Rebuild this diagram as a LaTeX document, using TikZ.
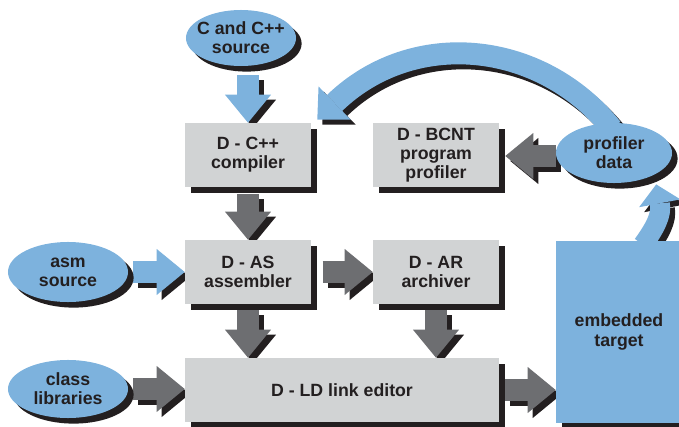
\documentclass[tikz,border=0pt]{standalone}
\usepackage{fontspec}
\setmainfont{Liberation Sans}
\usetikzlibrary{arrows.meta,positioning,shapes.geometric,shadows,backgrounds}
\definecolor{skyblue}{HTML}{7DB2DD}
\definecolor{boxgray}{HTML}{D1D3D4}
\definecolor{arrowgray}{HTML}{6D6E71}
\definecolor{inkblack}{HTML}{231F20}
\tikzset{
  dropblk/.style={drop shadow={shadow xshift=0.14cm,shadow yshift=-0.14cm,fill=inkblack,opacity=1}},
  tool/.style={rectangle,fill=boxgray,dropblk,minimum width=3.15cm,minimum height=1.6cm,inner sep=0pt,align=center},
  data/.style={ellipse,fill=skyblue,dropblk,inner sep=0pt,align=center},
  pipe/.style={line width=0.55cm,draw=#1,-{Triangle[length=0.7cm,width=1.15cm,line width=0pt]}},
  feedback/.style={line width=0.55cm,draw=#1,-{Triangle[length=0.6cm,width=1.15cm,line width=0pt]}}
}
\begin{document}
\begin{tikzpicture}[x=0.025cm,y=-0.025cm,font=\fontsize{12.6}{13.6}\selectfont\bfseries,text=inkblack]
\useasboundingbox (0,0) rectangle (679,427);
% tools
\node[tool] (comp) at (248,155) {D - C++\\compiler};
\node[tool] (bcnt) at (436,155) {D - BCNT\\program\\profiler};
\node[tool] (as) at (248,272) {D - AS\\assembler};
\node[tool] (ar) at (436,272) {D - AR\\archiver};
\node[tool,minimum width=7.85cm] (ld) at (342,390) {D - LD link editor};
\node[tool,fill=skyblue,minimum height=4.55cm] (target) at (619,332) {embedded\\target};
% data
\node[data,minimum width=2.75cm,minimum height=1.4cm,inner xsep=-0.13cm] (src) at (241,38) {C and C++\\source};
\node[data,minimum width=3cm,minimum height=1.5cm] (asm) at (68,272) {asm\\source};
\node[data,minimum width=3cm,minimum height=1.45cm] (lib) at (68,389) {class\\libraries};
\node[data,minimum width=2.9cm,minimum height=1.5cm] (prof) at (614,153) {profiler\\data};
% arrows, first their black shadow, then the arrows
\begin{scope}[on background layer]
\foreach \sh/\lc/\dc in {5/inkblack/inkblack,0/skyblue/arrowgray}{
\begin{scope}[transform canvas={shift={(\sh,\sh)}}]
\draw[pipe=\lc,shorten <=0.22cm] (src.south -| comp.north) -- (comp.north);
\draw[pipe=\dc,shorten <=0.18cm] (comp) -- (as);
\draw[pipe=\dc,shorten <=0.15cm] (as.south) -- (as.south |- ld.north);
\draw[pipe=\dc,shorten <=0.15cm] (ar.south) -- (ar.south |- ld.north);
\draw[pipe=\lc,shorten <=0.13cm] (asm) -- (as);
\draw[pipe=\dc,shorten <=0.28cm] (as) -- (ar);
\draw[pipe=\dc,shorten <=0.13cm] (lib.east) -- (lib.east -| ld.west);
\draw[pipe=\dc,shorten <=0.15cm] (ld.east) -- (ld.east -| target.west);
\draw[pipe=\dc,shorten >=0.15cm] ([shift={(0,3)}]prof.west) -- ([shift={(0,3)}]prof.west -| bcnt.east);
\draw[feedback=\lc] ([shift={(-2,6)}]prof.north) .. controls (540,39) and (412,28) .. ([shift={(6,-3)}]comp.north east);
\draw[feedback=\lc,line width=0.5cm,-{Triangle[length=0.48cm,width=1.05cm,line width=0pt]}]
  ([shift={(24,4)}]target.north) .. controls (655,228) and (662,215) .. ([shift={(1,10)}]prof.south east);
\end{scope}
}
\end{scope}
\end{tikzpicture}
\end{document}
